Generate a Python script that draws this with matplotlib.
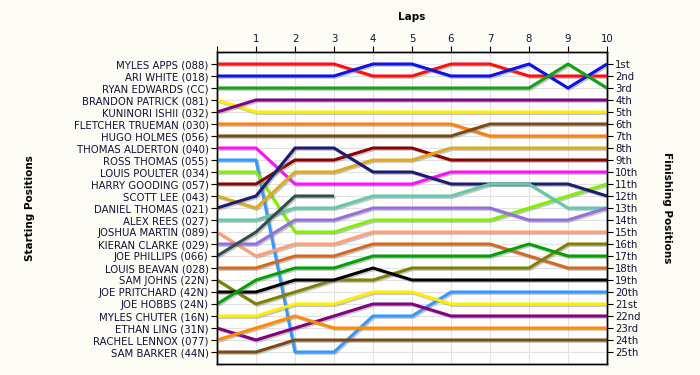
import numpy as np
import matplotlib.pyplot as plt
import matplotlib.patheffects as pe

nan = np.nan
laps = np.arange(11)

drivers = ['MYLES APPS (088)', 'ARI WHITE (018)', 'RYAN EDWARDS (CC)', 'BRANDON PATRICK (081)',
           'KUNINORI ISHII (032)', 'FLETCHER TRUEMAN (030)', 'HUGO HOLMES (056)',
           'THOMAS ALDERTON (040)', 'ROSS THOMAS (055)', 'LOUIS POULTER (034)',
           'HARRY GOODING (057)', 'SCOTT LEE (043)', 'DANIEL THOMAS (021)', 'ALEX REES (027)',
           'JOSHUA MARTIN (089)', 'KIERAN CLARKE (029)', 'JOE PHILLIPS (066)',
           'LOUIS BEAVAN (028)', 'SAM JOHNS (22N)', 'JOE PRITCHARD (42N)', 'JOE HOBBS (24N)',
           'MYLES CHUTER (16N)', 'ETHAN LING (31N)', 'RACHEL LENNOX (077)', 'SAM BARKER (44N)']

# position of each driver at laps 0..10 (nan = retired)
positions = [
    [1, 1, 1, 1, 2, 2, 1, 1, 2, 2, 2],
    [2, 2, 2, 2, 1, 1, 2, 2, 1, 3, 1],
    [3, 3, 3, 3, 3, 3, 3, 3, 3, 1, 3],
    [4, 5, 5, 5, 5, 5, 5, 5, 5, 5, 5],
    [5, 4, 4, 4, 4, 4, 4, 4, 4, 4, 4],
    [6, 6, 6, 6, 6, 6, 6, 7, 7, 7, 7],
    [7, 7, 7, 7, 7, 7, 7, 6, 6, 6, 6],
    [8, 8, 11, 11, 11, 11, 10, 10, 10, 10, 10],
    [9, 9, 25, 25, 22, 22, 20, 20, 20, 20, 20],
    [10, 10, 15, 15, 14, 14, 14, 14, 13, 12, 11],
    [11, 11, 9, 9, 8, 8, 9, 9, 9, 9, 9],
    [12, 13, 10, 10, 9, 9, 8, 8, 8, 8, 8],
    [13, 12, 8, 8, 10, 10, 11, 11, 11, 11, 12],
    [14, 14, 13, 13, 12, 12, 12, 11, 11, 13, 13],
    [15, 17, 16, 16, 15, 15, 15, 15, 15, 15, 15],
    [16, 16, 14, 14, 13, 13, 13, 13, 14, 14, 13],
    [17, 15, 12, 12, nan, nan, nan, nan, nan, nan, nan],
    [18, 18, 17, 17, 16, 16, 16, 16, 17, 18, 18],
    [19, 21, 20, 19, 19, 18, 18, 18, 18, 16, 16],
    [20, 20, 19, 19, 18, 19, 19, 19, 19, 19, 19],
    [21, 19, 18, 18, 17, 17, 17, 17, 16, 17, 17],
    [22, 22, 21, 21, 20, 20, 21, 21, 21, 21, 21],
    [23, 24, 23, 22, 21, 21, 22, 22, 22, 22, 22],
    [24, 23, 22, 23, 23, 23, 23, 23, 23, 23, 23],
    [25, 25, 24, 24, 24, 24, 24, 24, 24, 24, 24],
]

colors = ['#ff1010', '#1010e8', '#16a016', '#ffee00', '#800080', '#ff8010', '#7a4a14',
          '#ff10ff', '#3399ff', '#80f000', '#8b0000', '#e0aa20', '#1c1c70', '#66c8aa',
          '#ffa07a', '#9370db', '#2f4f4f', '#d2691e', '#808000', '#000000', '#00a000',
          '#ffee00', '#800080', '#ff8c00', '#7a4a14']

finish_labels = ['1st', '2nd', '3rd'] + ['%dth' % i for i in range(4, 21)] + \
                ['21st', '22nd', '23rd', '24th', '25th']

bg = '#fdfdf5'
fig = plt.figure(figsize=(7, 3.75), dpi=100, facecolor=bg)
ax = fig.add_axes([217 / 700, 1 - 364 / 375, 390 / 700, 312 / 375])
ax.set_facecolor('white')

shadow = [pe.SimpleLineShadow(offset=(1, -1), shadow_color='gray', alpha=0.45), pe.Normal()]
for pos, c in zip(positions, colors):
    ax.plot(laps, pos, color=c, lw=2.2, solid_capstyle='butt', path_effects=shadow, zorder=3)

ax.set_xlim(0, 10)
ax.set_ylim(26, 0)
ax.set_xticks(laps)
ax.set_xticklabels([''] + [str(i) for i in range(1, 11)])
ax.xaxis.tick_top()
ax.set_yticks(range(1, 26))
ax.set_yticklabels(drivers)
ax.grid(True, color='#e2e2e2', lw=0.8, zorder=0)
ax.tick_params(axis='both', labelsize=7.3, labelcolor='#10103a', length=4, pad=2)

ax2 = ax.twinx()
ax2.set_ylim(26, 0)
ax2.set_yticks(range(1, 26))
ax2.set_yticklabels(finish_labels)
ax2.tick_params(axis='y', labelsize=7.3, labelcolor='#10103a', length=4, pad=2)

for a in (ax, ax2):
    for s in a.spines.values():
        s.set_linewidth(1.0)

fig.text(412 / 700, 1 - 17 / 375, 'Laps', ha='center', va='center', fontsize=7.5, fontweight='bold')
fig.text(30 / 700, 1 - 208 / 375, 'Starting Positions', ha='center', va='center', rotation=90,
         fontsize=7.5, fontweight='bold')
fig.text(667 / 700, 1 - 208 / 375, 'Finishing Positions', ha='center', va='center', rotation=270,
         fontsize=7.5, fontweight='bold')

fig.savefig('out.png', dpi=100, facecolor=bg)
